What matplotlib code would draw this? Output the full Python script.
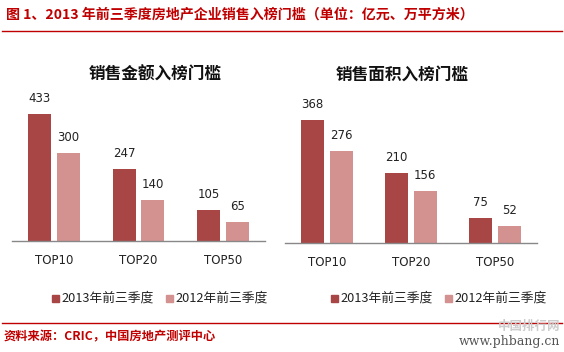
import numpy as np
import matplotlib
matplotlib.use("Agg")
import matplotlib.pyplot as plt
from matplotlib.patches import Rectangle

plt.rcParams['font.family'] = ['Noto Sans CJK SC', 'DejaVu Sans']

# data
categories = ['TOP10', 'TOP20', 'TOP50']
series_names = ['2013年前三季度', '2012年前三季度']
amount_2013 = [433, 247, 105]
amount_2012 = [300, 140, 65]
area_2013 = [368, 210, 75]
area_2012 = [276, 156, 52]

DARK = '#A84646'
LIGHT = '#D39190'
RED = '#C00000'

W, H = 564, 352
fig = plt.figure(figsize=(W / 100, H / 100), dpi=100)


def px_axes(x0, x1, y_top, y_base):
    return fig.add_axes([x0 / W, (H - y_base) / H, (x1 - x0) / W, (y_base - y_top) / H])


def draw_panel(ax, v13, v12, ymax):
    x = np.arange(len(categories))
    w = 0.27
    b1 = ax.bar(x - 0.17, v13, w, color=DARK)
    b2 = ax.bar(x + 0.17, v12, w, color=LIGHT)
    for bars in (b1, b2):
        for rect in bars:
            ax.annotate(f"{int(rect.get_height())}",
                        (rect.get_x() + rect.get_width() / 2, rect.get_height()),
                        xytext=(0, 11), textcoords='offset points',
                        ha='center', va='center', fontsize=8.5, color='#222222',
                        family='DejaVu Sans')
    ax.set_xlim(-0.5, 2.5)
    ax.set_ylim(0, ymax)
    ax.set_xticks(x)
    ax.set_xticklabels(categories, fontsize=8.5, family='DejaVu Sans', color='#222222')
    ax.tick_params(axis='x', length=0, pad=9)
    ax.set_yticks([])
    for s in ['top', 'right', 'left']:
        ax.spines[s].set_visible(False)
    ax.spines['bottom'].set_color('#888888')
    ax.spines['bottom'].set_linewidth(1.0)
    ax.patch.set_alpha(0)


ax1 = px_axes(12, 265, 100, 241)
draw_panel(ax1, amount_2013, amount_2012, 141 / 0.293)
ax2 = px_axes(285, 537, 100, 243)
draw_panel(ax2, area_2013, area_2012, 143 / 0.334)

# panel titles
fig.text(155 / W, 1 - 75 / H, '销售金额入榜门槛', ha='center', va='center',
         fontsize=12, fontweight='bold', color='#111111')
fig.text(402 / W, 1 - 75 / H, '销售面积入榜门槛', ha='center', va='center',
         fontsize=12, fontweight='bold', color='#111111')

# legends
for x_off in (0, 279):
    for i, (name, col) in enumerate(zip(series_names, [DARK, LIGHT])):
        mx = x_off + 52 + i * 114
        fig.patches.append(Rectangle((mx / W, 1 - 302 / H), 7 / W, 7 / H,
                                     transform=fig.transFigure, color=col))
        fig.text((mx + 9) / W, 1 - 298 / H, name, ha='left', va='center',
                 fontsize=9.2, color='#222222')

# header
fig.text(6 / W, 1 - 15 / H, '图 1、2013 年前三季度房地产企业销售入榜门槛（单位：亿元、万平方米）',
         ha='left', va='center', fontsize=10.1, fontweight='bold', color=RED)
fig.add_artist(plt.Line2D([2 / W, 562 / W], [1 - 31 / H, 1 - 31 / H],
                          transform=fig.transFigure, color=RED, lw=1.0))

# footer
fig.add_artist(plt.Line2D([2 / W, 562 / W], [1 - 323 / H, 1 - 323 / H],
                          transform=fig.transFigure, color=RED, lw=1.0))
fig.text(4 / W, 1 - 337 / H, '资料来源：CRIC，中国房地产测评中心',
         ha='left', va='center', fontsize=8.8, fontweight='bold', color=RED)
fig.text(560 / W, 1 - 326 / H, '中国排行网', ha='right', va='center',
         fontsize=9, color='#CCCCCC', fontweight='bold')
fig.text(560 / W, 1 - 341 / H, 'www.phbang.cn', ha='right', va='center',
         fontsize=9, color='#555555', family='DejaVu Serif')

fig.savefig('out.png', dpi=100)
